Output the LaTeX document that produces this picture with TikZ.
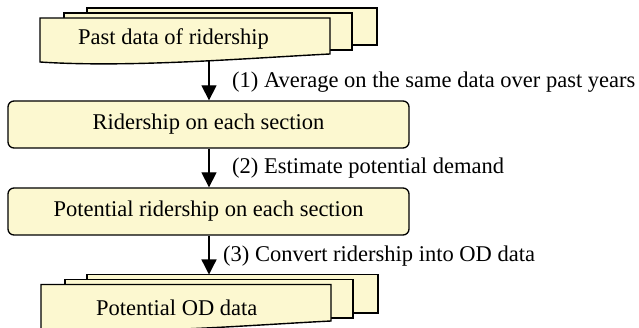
\documentclass[tikz,border=0pt]{standalone}
\usepackage{fontspec}
\setmainfont{Liberation Serif}
\usetikzlibrary{arrows.meta}
\definecolor{paper}{RGB}{252,248,208}
\tikzset{
  sheet/.style={draw=black, fill=paper, line width=1.4pt, line join=miter},
  stagebox/.style={draw=black, fill=paper, line width=1.3pt, rounded corners=6pt,
    minimum width=401pt, minimum height=47pt, inner sep=0pt,
    font=\fontsize{22.5}{27}\selectfont},
  txt/.style={inner sep=0pt, font=\fontsize{22.5}{27}\selectfont},
  flow/.style={line width=1.3pt, -{Triangle[width=15pt,length=15pt]}},
}
\begin{document}
\begin{tikzpicture}[x=1pt,y=-1pt]
\useasboundingbox (0,0) rectangle (639,328);
\clip (0,0) rectangle (639,328);

% stack of past data sheets
\draw[sheet] (87,8) rectangle (377,45);
\draw[sheet] (64,13) rectangle (352,50);
\draw[sheet] (40,18) -- (330,18) -- (330,54)
  .. controls (250,58) and (130,68) .. (40,62) -- cycle;
\coordinate (pastbot) at (209,60.5);
\node[txt, anchor=base west] (past) at (78,45) {Past data of ridership};

% processing stages
\node[stagebox] (sec) at (208.5,124.5) {Ridership on each section};
\node[stagebox] (pot) at (208.5,211.5) {Potential ridership on each section};

% stack of OD data sheets
\draw[sheet] (87,274.5) rectangle (378,313);
\draw[sheet] (65,279.5) rectangle (353,318);
\draw[sheet] (41,284.5) -- (331,284.5) -- (331,321)
  .. controls (251,325) and (131,335) .. (41,329) -- cycle;
\coordinate (odtop) at (209,274.5);
\node[txt, anchor=base west] (od) at (96,315) {Potential OD data};

% connectors
\draw[flow] (pastbot) -- (pastbot |- sec.north);
\draw[flow] (sec.south -| pastbot) -- (pot.north -| pastbot);
\draw[flow] (pot.south -| pastbot) -- (odtop);

% step labels
\node[txt, anchor=base west] (l1) at (232,88) {(1) Average on the same data over past years};
\node[txt, anchor=base west] (l2) at (232,174) {(2) Estimate potential demand};
\node[txt, anchor=base west] (l3) at (223,262) {(3) Convert ridership into OD data};
\end{tikzpicture}
\end{document}
